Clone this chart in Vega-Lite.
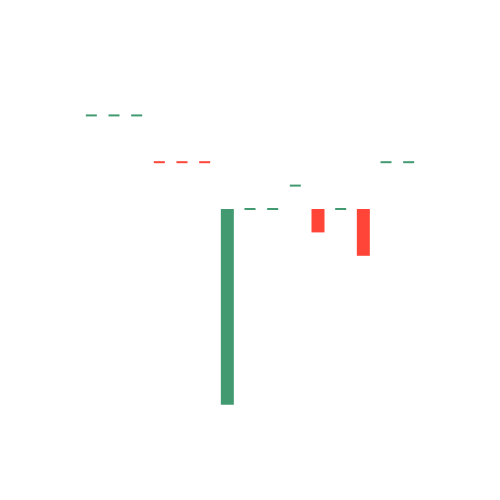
{
  "$schema": "https://vega.github.io/schema/vega-lite/v6.json",
  "width": 340,
  "height": 340,
  "autosize": "none",
  "padding": {"left": 80, "top": 80, "right": 80, "bottom": 80},
  "background": "white",
  "config": {"view": {"stroke": null}},
  "data": {
    "values": [
      {"day": 1, "open": 104, "close": 104, "dir": "up"},
      {"day": 2, "open": 104, "close": 104, "dir": "up"},
      {"day": 3, "open": 104, "close": 104, "dir": "up"},
      {"day": 4, "open": 102, "close": 102, "dir": "down"},
      {"day": 5, "open": 102, "close": 102, "dir": "down"},
      {"day": 6, "open": 102, "close": 102, "dir": "down"},
      {"day": 7, "open": 100, "close": 91.64, "dir": "up"},
      {"day": 8, "open": 100, "close": 100, "dir": "up"},
      {"day": 9, "open": 100, "close": 100, "dir": "up"},
      {"day": 10, "open": 101, "close": 101, "dir": "up"},
      {"day": 11, "open": 100, "close": 99, "dir": "down"},
      {"day": 12, "open": 100, "close": 100, "dir": "up"},
      {"day": 13, "open": 100, "close": 98, "dir": "down"},
      {"day": 14, "open": 102, "close": 102, "dir": "up"},
      {"day": 15, "open": 102, "close": 102, "dir": "up"}
    ]
  },
  "encoding": {
    "x": {"field": "day", "type": "ordinal", "axis": null, "scale": {"paddingInner": 0, "paddingOuter": 0}},
    "color": {"field": "dir", "type": "nominal", "legend": null,
      "scale": {"domain": ["up", "down"], "range": ["#429a71", "#ff4538"]}}
  },
  "layer": [
    {
      "transform": [{"filter": "datum.open != datum.close"}],
      "mark": {"type": "bar", "size": 13},
      "encoding": {
        "y": {"field": "open", "type": "quantitative", "axis": null, "scale": {"domain": [90.983, 105.513], "nice": false, "zero": false}},
        "y2": {"field": "close"}
      }
    },
    {
      "transform": [{"filter": "datum.open == datum.close"}],
      "mark": {"type": "tick", "orient": "horizontal", "size": 11, "thickness": 2, "opacity": 1},
      "encoding": {
        "y": {"field": "open", "type": "quantitative", "axis": null, "scale": {"domain": [90.983, 105.513], "nice": false, "zero": false}}
      }
    }
  ]
}
